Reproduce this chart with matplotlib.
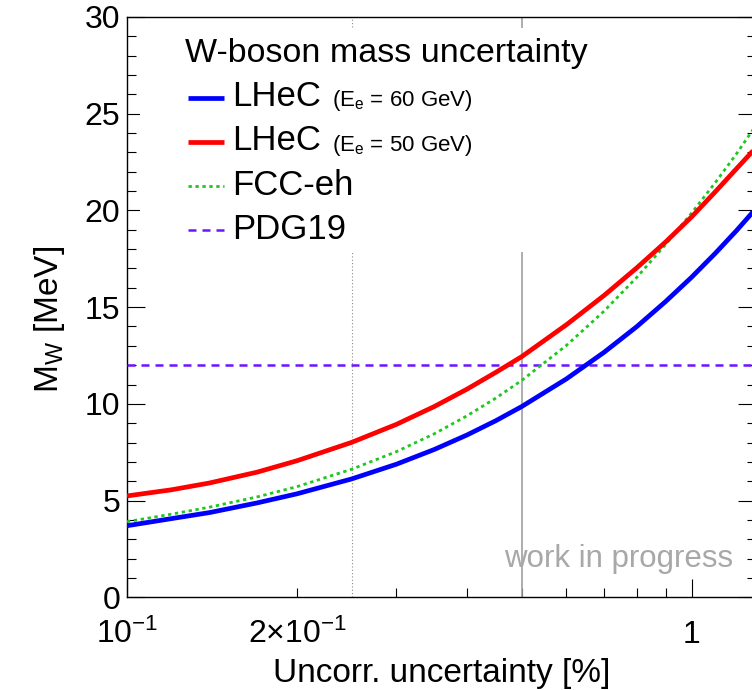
import matplotlib
matplotlib.use("Agg")
import matplotlib.pyplot as plt
from matplotlib.lines import Line2D
from matplotlib.patches import Rectangle
from matplotlib.ticker import FixedLocator

plt.rcParams["font.family"] = ["Liberation Sans", "DejaVu Sans"]
plt.rcParams["mathtext.fontset"] = "custom"
plt.rcParams["mathtext.rm"] = "Liberation Sans"
plt.rcParams["mathtext.it"] = "Liberation Sans:italic"
plt.rcParams["mathtext.bf"] = "Liberation Sans:bold"

# Uncorrelated uncertainty [%] and resulting W-mass uncertainty [MeV]
x_unc = [0.10, 0.12, 0.14, 0.17, 0.20, 0.25, 0.30, 0.35, 0.40, 0.45, 0.50,
         0.60, 0.70, 0.80, 0.90, 1.00, 1.10, 1.20, 1.30]
lhec_60 = [3.70, 4.07, 4.38, 4.88, 5.35, 6.12, 6.88, 7.64, 8.39, 9.13, 9.86,
           11.29, 12.67, 14.00, 15.30, 16.55, 17.77, 18.95, 20.10]
lhec_50 = [5.24, 5.56, 5.91, 6.47, 7.06, 8.01, 8.94, 9.86, 10.76, 11.63, 12.44,
           14.09, 15.61, 17.04, 18.38, 19.67, 20.95, 22.15, 23.25]
fcc_eh = [3.91, 4.30, 4.66, 5.19, 5.72, 6.62, 7.53, 8.45, 9.38, 10.30, 11.21,
          13.02, 14.80, 16.55, 18.25, 19.87, 21.42, 22.92, 24.40]
pdg19 = 12.0
ref_dotted = 0.25
ref_solid = 0.5

W, H = 752, 690
fig = plt.figure(figsize=(W / 100, H / 100), dpi=100)
ax = fig.add_axes([127 / W, (H - 597.3) / H, 629 / W, 580.3 / H])
ax.set_xscale("log")
ax.set_xlim(0.1, 1.3)
ax.set_ylim(0, 30)

c_blue, c_red, c_green, c_violet = "#0000ff", "#ff0000", "#1ec81e", "#6a14ff"

ax.axvline(ref_dotted, color="#8c8c8c", lw=0.8, ls=(0, (1, 2)), zorder=2)
ax.axvline(ref_solid, color="#a0a0a0", lw=1.2, zorder=2)
ax.axhline(pdg19, color=c_violet, lw=1.8, ls=(0, (3.2, 2.4)), zorder=4)
ax.plot(x_unc, fcc_eh, color=c_green, lw=2.0, ls=(0, (1.2, 1.3)), zorder=4)
ax.plot(x_unc, lhec_60, color=c_blue, lw=3.4, zorder=4, solid_capstyle="butt")
ax.plot(x_unc, lhec_50, color=c_red, lw=3.4, zorder=4, solid_capstyle="butt")

# legend background
ax.add_patch(Rectangle((0.02, 0.595), 0.73, 0.386, transform=ax.transAxes,
                       facecolor="white", edgecolor="none", zorder=3))

# axes styling
for s in ax.spines.values():
    s.set_linewidth(1.0)
ax.yaxis.set_major_locator(FixedLocator([0, 5, 10, 15, 20, 25, 30]))
ax.yaxis.set_minor_locator(FixedLocator([v for v in range(31) if v % 5]))
ax.set_yticklabels(["0", "5", "10", "15", "20", "25", "30"])
ax.tick_params(axis="y", which="both", direction="in", left=True, right=True,
               labelsize=23, pad=5, width=0.8)
ax.tick_params(axis="y", which="major", length=13)
ax.tick_params(axis="y", which="minor", length=6.5)

ax.xaxis.set_major_locator(FixedLocator([0.1, 1.0]))
ax.xaxis.set_minor_locator(FixedLocator([0.2, 0.3, 0.4, 0.5, 0.6, 0.7, 0.8, 0.9]))
ax.set_xticklabels([r"$\mathregular{10^{-1}}$", "1"])
ax.set_xticklabels([r"$\mathregular{2{\times}10^{-1}}$", "", "", "", "", "", "", ""], minor=True)
ax.tick_params(axis="x", which="both", direction="in", top=False, bottom=True,
               labelsize=23, pad=33, width=0.8)
ax.tick_params(axis="x", which="major", length=13)
ax.tick_params(axis="x", which="minor", length=6.5)
for lab in ax.get_xticklabels() + ax.get_xticklabels(minor=True):
    lab.set_verticalalignment("baseline")

ax.set_xlabel("Uncorr. uncertainty [%]", fontsize=24, va="baseline")
ax.xaxis.set_label_coords(0.5, -0.146)
ax.set_ylabel(r"M$_\mathregular{W}$ [MeV]", fontsize=24, va="baseline")
ax.yaxis.set_label_coords(-0.1097, 0.4796)

ax.text(0.9634, 0.0522, "work in progress", transform=ax.transAxes, fontsize=22.5,
        color="#a8a8a8", ha="right", va="baseline", zorder=5)


def fx(px):
    return px / W


def fy(py):
    return 1 - py / H


fig.text(fx(185), fy(62), "W-boson mass uncertainty", fontsize=24.5, va="baseline")
entries = [
    (c_blue, 3.4, "-", "LHeC", r"(E$_\mathregular{e}$ = 60 GeV)", 97.5, 106),
    (c_red, 3.4, "-", "LHeC", r"(E$_\mathregular{e}$ = 50 GeV)", 142, 150.5),
    (c_green, 2.0, (0, (1.2, 1.3)), "FCC-eh", None, 186, 195),
    (c_violet, 1.8, (0, (3.2, 2.4)), "PDG19", None, 230, 239),
]
for col, lw, ls, name, extra, ly, ty in entries:
    fig.add_artist(Line2D([fx(188), fx(224)], [fy(ly), fy(ly)], color=col, lw=lw, ls=ls,
                          solid_capstyle="butt", transform=fig.transFigure))
    fig.text(fx(232.5), fy(ty), name, fontsize=25, va="baseline")
    if extra:
        fig.text(fx(331.5), fy(ty), extra, fontsize=16, va="baseline")

fig.savefig("out.png", dpi=100)
